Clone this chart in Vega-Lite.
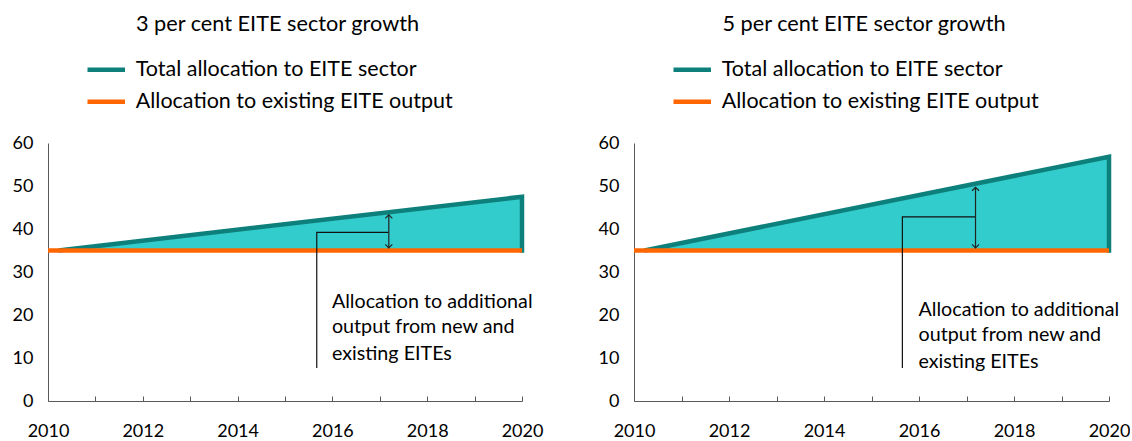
{
  "$schema": "https://vega.github.io/schema/vega-lite/v6.json",
  "padding": {"left": 12, "top": 14, "right": 0, "bottom": 0},
  "background": "white",
  "config": {
    "font": "Lato",
    "view": {"stroke": null},
    "axis": {"grid": false, "domainColor": "#595959", "tickColor": "#595959", "labelColor": "black", "labelFontSize": 18, "labelFont": "Lato", "title": null},
    "axisX": {"values": [2010, 2011, 2012, 2013, 2014, 2015, 2016, 2017, 2018, 2019, 2020], "format": "d", "labelExpr": "datum.value % 2 === 0 ? datum.label : ''", "tickSize": -5, "labelPadding": 26, "labelFlush": false, "labelOverlap": false, "labelBound": false},
    "axisY": {"values": [0, 10, 20, 30, 40, 50, 60], "ticks": false, "labelPadding": 15},
    "title": {"fontSize": 21.7, "fontWeight": "normal", "color": "black", "anchor": "middle", "frame": "bounds", "font": "Lato"},
    "concat": {"spacing": 55}
  },
  "resolve": {"scale": {"color": "independent"}, "legend": {"color": "independent"}},
  "datasets": {
    "area3": [{"year": 2010.22, "value": 35, "base": 35}, {"year": 2020, "value": 47.5, "base": 35}],
    "lines3": [
      {"year": 2010.22, "value": 35, "series": "Total allocation to EITE sector", "ord": 1},
      {"year": 2020, "value": 47.5, "series": "Total allocation to EITE sector", "ord": 2},
      {"year": 2020, "value": 34.5, "series": "Total allocation to EITE sector", "ord": 3},
      {"year": 2010, "value": 35, "series": "Allocation to existing EITE output", "ord": 1},
      {"year": 2020, "value": 35, "series": "Allocation to existing EITE output", "ord": 2}
    ],
    "elbow3": [{"x": 2015.67, "y": 7.7, "o": 1}, {"x": 2015.67, "y": 39.2, "o": 2}, {"x": 2017.19, "y": 39.2, "o": 3}],
    "arrow3": [{"x": 2017.19, "y1": 35.6, "y2": 43.3}],
    "heads3": [{"x": 2017.19, "y": 43.3, "dir": "up"}, {"x": 2017.19, "y": 35.6, "dir": "down"}],
    "text3": [{"x": 2015.99, "y": 23.0, "label": "Allocation to additional"}, {"x": 2015.99, "y": 17.1, "label": "output from new and"}, {"x": 2015.99, "y": 10.9, "label": "existing EITEs"}],
    "area5": [{"year": 2010.22, "value": 35, "base": 35}, {"year": 2020, "value": 56.8, "base": 35}],
    "lines5": [
      {"year": 2010.22, "value": 35, "series": "Total allocation to EITE sector", "ord": 1},
      {"year": 2020, "value": 56.8, "series": "Total allocation to EITE sector", "ord": 2},
      {"year": 2020, "value": 34.5, "series": "Total allocation to EITE sector", "ord": 3},
      {"year": 2010, "value": 35, "series": "Allocation to existing EITE output", "ord": 1},
      {"year": 2020, "value": 35, "series": "Allocation to existing EITE output", "ord": 2}
    ],
    "elbow5": [{"x": 2015.65, "y": 7.7, "o": 1}, {"x": 2015.65, "y": 42.8, "o": 2}, {"x": 2017.19, "y": 42.8, "o": 3}],
    "arrow5": [{"x": 2017.19, "y1": 35.6, "y2": 49.7}],
    "heads5": [{"x": 2017.19, "y": 49.7, "dir": "up"}, {"x": 2017.19, "y": 35.6, "dir": "down"}],
    "text5": [{"x": 2015.99, "y": 21.2, "label": "Allocation to additional"}, {"x": 2015.99, "y": 15.3, "label": "output from new and"}, {"x": 2015.99, "y": 9.1, "label": "existing EITEs"}]
  },
  "hconcat": [
    {
      "width": 474, "height": 258,
      "title": {"text": "3 per cent EITE sector growth", "offset": 23},
      "layer": [
        {"data": {"name": "area3"}, "mark": {"type": "area", "color": "#33CCCC", "opacity": 1},
         "encoding": {"x": {"field": "year", "type": "quantitative", "scale": {"domain": [2010, 2020], "nice": false, "zero": false}},
                      "y": {"field": "value", "type": "quantitative", "scale": {"domain": [0, 60], "nice": false}},
                      "y2": {"field": "base"}}},
        {"data": {"name": "lines3"}, "mark": {"type": "line", "strokeWidth": 4.5, "strokeJoin": "miter", "strokeCap": "butt"},
         "encoding": {"x": {"field": "year", "type": "quantitative"}, "y": {"field": "value", "type": "quantitative"},
                      "color": {"field": "series", "type": "nominal", "scale": {"domain": ["Total allocation to EITE sector", "Allocation to existing EITE output"], "range": ["#0E807C", "#FF6600"]},
                                "legend": {"title": null, "orient": "none", "legendX": 47.5, "legendY": -84, "symbolType": "M-2.5,0H2.5", "symbolSize": 225, "symbolStrokeWidth": 4.5, "labelFontSize": 21.5, "labelFont": "Lato", "labelColor": "black", "labelOffset": 18.75, "labelLimit": 0, "rowPadding": 9}},
                      "order": {"field": "ord"}}},
        {"data": {"name": "elbow3"}, "mark": {"type": "line", "color": "#111", "strokeWidth": 1.2},
         "encoding": {"x": {"field": "x", "type": "quantitative"}, "y": {"field": "y", "type": "quantitative"}, "order": {"field": "o"}}},
        {"data": {"name": "arrow3"}, "mark": {"type": "rule", "color": "#222", "strokeWidth": 1.2},
         "encoding": {"x": {"field": "x", "type": "quantitative"}, "y": {"field": "y1", "type": "quantitative"}, "y2": {"field": "y2"}}},
        {"data": {"name": "heads3"}, "mark": {"type": "point", "filled": false, "stroke": "#222", "strokeWidth": 1.2, "size": 49, "opacity": 1},
         "encoding": {"x": {"field": "x", "type": "quantitative"}, "y": {"field": "y", "type": "quantitative"},
                      "shape": {"field": "dir", "type": "nominal", "scale": {"domain": ["up", "down"], "range": ["M-1,1L0,0L1,1", "M-1,-1L0,0L1,-1"]}, "legend": null}}},
        {"data": {"name": "text3"}, "mark": {"type": "text", "align": "left", "baseline": "middle", "fontSize": 19.7, "font": "Lato", "color": "black"},
         "encoding": {"x": {"field": "x", "type": "quantitative"}, "y": {"field": "y", "type": "quantitative"}, "text": {"field": "label"}}}
      ]
    },
    {
      "width": 475, "height": 258,
      "title": {"text": "5 per cent EITE sector growth", "offset": 23},
      "layer": [
        {"data": {"name": "area5"}, "mark": {"type": "area", "color": "#33CCCC", "opacity": 1},
         "encoding": {"x": {"field": "year", "type": "quantitative", "scale": {"domain": [2010, 2020], "nice": false, "zero": false}},
                      "y": {"field": "value", "type": "quantitative", "scale": {"domain": [0, 60], "nice": false}},
                      "y2": {"field": "base"}}},
        {"data": {"name": "lines5"}, "mark": {"type": "line", "strokeWidth": 4.5, "strokeJoin": "miter", "strokeCap": "butt"},
         "encoding": {"x": {"field": "year", "type": "quantitative"}, "y": {"field": "value", "type": "quantitative"},
                      "color": {"field": "series", "type": "nominal", "scale": {"domain": ["Total allocation to EITE sector", "Allocation to existing EITE output"], "range": ["#0E807C", "#FF6600"]},
                                "legend": {"title": null, "orient": "none", "legendX": 47.5, "legendY": -84, "symbolType": "M-2.5,0H2.5", "symbolSize": 225, "symbolStrokeWidth": 4.5, "labelFontSize": 21.5, "labelFont": "Lato", "labelColor": "black", "labelOffset": 18.75, "labelLimit": 0, "rowPadding": 9}},
                      "order": {"field": "ord"}}},
        {"data": {"name": "elbow5"}, "mark": {"type": "line", "color": "#111", "strokeWidth": 1.2},
         "encoding": {"x": {"field": "x", "type": "quantitative"}, "y": {"field": "y", "type": "quantitative"}, "order": {"field": "o"}}},
        {"data": {"name": "arrow5"}, "mark": {"type": "rule", "color": "#222", "strokeWidth": 1.2},
         "encoding": {"x": {"field": "x", "type": "quantitative"}, "y": {"field": "y1", "type": "quantitative"}, "y2": {"field": "y2"}}},
        {"data": {"name": "heads5"}, "mark": {"type": "point", "filled": false, "stroke": "#222", "strokeWidth": 1.2, "size": 49, "opacity": 1},
         "encoding": {"x": {"field": "x", "type": "quantitative"}, "y": {"field": "y", "type": "quantitative"},
                      "shape": {"field": "dir", "type": "nominal", "scale": {"domain": ["up", "down"], "range": ["M-1,1L0,0L1,1", "M-1,-1L0,0L1,-1"]}, "legend": null}}},
        {"data": {"name": "text5"}, "mark": {"type": "text", "align": "left", "baseline": "middle", "fontSize": 19.7, "font": "Lato", "color": "black"},
         "encoding": {"x": {"field": "x", "type": "quantitative"}, "y": {"field": "y", "type": "quantitative"}, "text": {"field": "label"}}}
      ]
    }
  ]
}
